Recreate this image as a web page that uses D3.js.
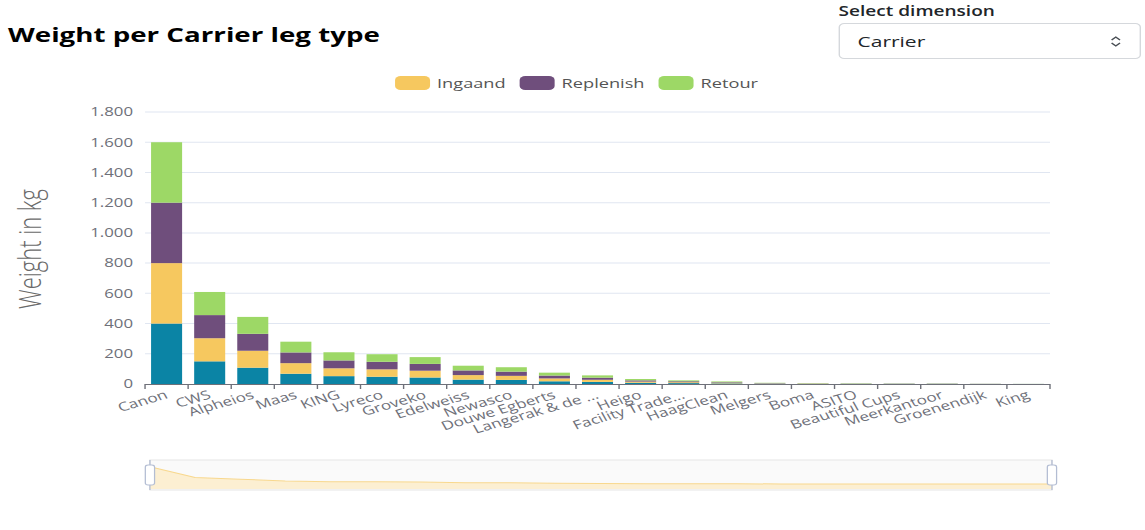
<!DOCTYPE html>
<html>
<head>
<meta charset="utf-8">
<script src="https://cdn.jsdelivr.net/npm/d3@7"></script>
<style>
  html, body { margin: 0; padding: 0; background: #fff; overflow: hidden; }
  /* the reference is stretched horizontally, so the whole page is laid out narrow and scaled */
  #page {
    position: absolute; left: 0; top: 0; width: 818px; height: 530px;
    transform: scaleX(1.4); transform-origin: 0 0;
    font-family: "Open Sans", sans-serif;
  }
  #chart { position: absolute; left: 0; top: 0; }
  .dim-label {
    position: absolute; left: 599px; top: 1px;
    font-size: 13.6px; font-weight: 600; color: #212529;
  }
  .dim-select {
    position: absolute; left: 598.5px; top: 23px; width: 216px; height: 36px;
    box-sizing: border-box; border: 1px solid #d5d8dc; border-radius: 4px;
    font-size: 15px; color: #212529; padding-left: 13px; line-height: 34px;
  }
  .dim-select svg { position: absolute; right: 13px; top: 11px; }
</style>
</head>
<body>
<div id="page">
  <svg id="chart"></svg>
  <div class="dim-label">Select dimension</div>
  <div class="dim-select">Carrier
    <svg width="8" height="13" viewBox="0 0 8 13">
      <path d="M1 5 L4 2 L7 5" fill="none" stroke="#4a4f55" stroke-width="1.1"/>
      <path d="M1 8 L4 11 L7 8" fill="none" stroke="#4a4f55" stroke-width="1.1"/>
    </svg>
  </div>
</div>
<script>
const SCALE_X = 1.4;
const WIDTH = 1145 / SCALE_X;
const HEIGHT = 530;

const carriers = [
  "Canon", "CWS", "Alpheios", "Maas", "KING", "Lyreco", "Groveko", "Edelweiss",
  "Newasco", "Douwe Egberts", "Langerak & de ...", "Heigo", "Facility Trade...",
  "HaagClean", "Melgers", "Boma", "ASITO", "Beautiful Cups", "Meerkantoor",
  "Groenendijk", "King"
];

// bottom (teal) series has no legend entry in the original
const uitgaand  = [400, 150, 108, 68, 52, 48, 43, 29, 27, 18, 14, 8, 6, 4, 2, 1, 1, 1, 1, 0.5, 0.3];
const ingaand   = [400, 153, 112, 70, 52, 49, 45, 30, 27, 19, 14, 8, 6, 4, 2, 2, 1, 1, 1, 0.5, 0.2];
const replenish = [400, 153, 112, 71, 52, 50, 45, 31, 28, 19, 14, 8, 6, 4, 2, 1, 1, 1, 1, 0.5, 0.2];
const retour    = [400, 153, 112, 71, 54, 50, 45, 31, 29, 19, 15, 9, 6, 5, 2, 2, 2, 1, 1, 0.5, 0.3];

const seriesKeys = ["Uitgaand", "Ingaand", "Replenish", "Retour"];
const legendKeys = ["Ingaand", "Replenish", "Retour"];
const seriesColors = ["#0b84a5", "#f6c85f", "#6f4e7c", "#9dd866"];
const yTicks = [0, 200, 400, 600, 800, 1000, 1200, 1400, 1600, 1800];

const plot = { left: 103.6, right: 750, top: 112, bottom: 384 };
const slider = { left: 107.1, right: 751.4, top: 460, bottom: 490 };

const rows = carriers.map((c, i) => ({
  carrier: c,
  Uitgaand: uitgaand[i],
  Ingaand: ingaand[i],
  Replenish: replenish[i],
  Retour: retour[i]
}));

const color = d3.scaleOrdinal().domain(seriesKeys).range(seriesColors);
const nl = d3.formatLocale({ decimal: ",", thousands: ".", grouping: [3], currency: ["€", ""] });
const fmt = nl.format(",d");

const svg = d3.select("#chart").attr("width", WIDTH).attr("height", HEIGHT);

const x = d3.scaleBand()
  .domain(carriers)
  .range([plot.left, plot.right])
  .paddingInner(0.28)
  .paddingOuter(0.14);

const y = d3.scaleLinear().domain([0, 1800]).range([plot.bottom, plot.top]);

// title
svg.append("text")
  .attr("x", 5.7)
  .attr("y", 42)
  .attr("font-size", 19.8)
  .attr("font-weight", 700)
  .attr("fill", "#000")
  .text("Weight per Carrier leg type");

// grid lines
svg.append("g")
  .selectAll("line")
  .data(yTicks.filter((t) => t > 0))
  .join("line")
  .attr("x1", plot.left)
  .attr("x2", plot.right)
  .attr("y1", (d) => y(d))
  .attr("y2", (d) => y(d))
  .attr("stroke", "#e0e6f1");

// y axis labels
const yAxis = svg.append("g")
  .attr("transform", `translate(${plot.left},0)`)
  .call(d3.axisLeft(y).tickValues(yTicks).tickFormat(fmt).tickSize(0).tickPadding(8.6));
yAxis.select(".domain").remove();
yAxis.selectAll("text")
  .attr("font-family", "Open Sans")
  .attr("font-size", 12)
  .attr("fill", "#6e7079");

// y axis name
svg.append("text")
  .attr("transform", "translate(20.7,249) rotate(-90)")
  .attr("text-anchor", "middle")
  .attr("dominant-baseline", "central")
  .attr("font-size", 22)
  .attr("font-weight", 300)
  .attr("fill", "#6a6a6a")
  .text("Weight in kg");

// stacked bars
const stacked = d3.stack().keys(seriesKeys)(rows);
svg.append("g")
  .selectAll("g")
  .data(stacked)
  .join("g")
  .attr("fill", (d) => color(d.key))
  .selectAll("rect")
  .data((d) => d)
  .join("rect")
  .attr("x", (d) => x(d.data.carrier))
  .attr("width", x.bandwidth())
  .attr("y", (d) => y(d[1]))
  .attr("height", (d) => y(d[0]) - y(d[1]));

// x axis
const xAxis = svg.append("g")
  .attr("transform", `translate(0,${plot.bottom})`)
  .call(d3.axisBottom(x).tickSize(0).tickPadding(0));
xAxis.select(".domain")
  .attr("d", `M${plot.left},0.5H${plot.right}`)
  .attr("stroke", "#6e7079");
xAxis.selectAll(".tick text")
  .attr("font-family", "Open Sans")
  .attr("font-size", 12.3)
  .attr("fill", "#6e7079")
  .attr("text-anchor", "end")
  .attr("x", 0)
  .attr("y", 0)
  .attr("dy", "0.35em")
  .attr("transform", "translate(0,10) rotate(-22)");

// category boundary ticks
const boundaries = d3.range(carriers.length + 1).map((i) => plot.left + i * x.step());
xAxis.append("g")
  .selectAll("line")
  .data(boundaries)
  .join("line")
  .attr("x1", (d) => d)
  .attr("x2", (d) => d)
  .attr("y1", 0)
  .attr("y2", 5)
  .attr("stroke", "#6e7079");

// legend
const legend = svg.append("g");
let lx = 0;
legendKeys.forEach((key) => {
  const g = legend.append("g");
  g.append("rect")
    .attr("x", 0)
    .attr("y", -7)
    .attr("width", 25)
    .attr("height", 14)
    .attr("rx", 4)
    .attr("fill", color(key));
  const t = g.append("text")
    .attr("x", 30)
    .attr("dominant-baseline", "central")
    .attr("font-size", 13)
    .attr("fill", "#555")
    .text(key);
  g.attr("transform", `translate(${lx},0)`);
  lx += 30 + t.node().getComputedTextLength() + 10;
});
const legendWidth = lx - 10;
legend.attr("transform", `translate(${411.8 - legendWidth / 2},83)`);

// data zoom slider (full range selected)
const totals = rows.map((r) => seriesKeys.reduce((s, k) => s + r[k], 0));
const sx = d3.scalePoint().domain(carriers).range([slider.left, slider.right]);
const sy = d3.scaleLinear().domain([0, d3.max(totals)]).range([484, 466.7]);

const zoomG = svg.append("g");
zoomG.append("rect")
  .attr("x", slider.left)
  .attr("y", slider.top)
  .attr("width", slider.right - slider.left)
  .attr("height", slider.bottom - slider.top)
  .attr("fill", "#fafafa")
  .attr("stroke", "#e6e6e6");

const shadowArea = d3.area()
  .x((d, i) => sx(carriers[i]))
  .y0(slider.bottom - 1)
  .y1((d) => sy(d));
zoomG.append("path")
  .datum(totals)
  .attr("d", shadowArea)
  .attr("fill", "#fcefd2");
zoomG.append("path")
  .datum(totals)
  .attr("d", d3.line().x((d, i) => sx(carriers[i])).y((d) => sy(d)))
  .attr("fill", "none")
  .attr("stroke", "#f8d88e")
  .attr("stroke-width", 1);

[slider.left, slider.right].forEach((hx) => {
  zoomG.append("line")
    .attr("x1", hx)
    .attr("x2", hx)
    .attr("y1", slider.top)
    .attr("y2", slider.bottom)
    .attr("stroke", "#b3bdd3")
    .attr("stroke-width", 0.9);
  zoomG.append("rect")
    .attr("x", hx - 3.3)
    .attr("y", 465)
    .attr("width", 6.6)
    .attr("height", 20)
    .attr("rx", 2)
    .attr("fill", "#fff")
    .attr("stroke", "#b3bdd3")
    .attr("stroke-width", 0.9);
});
</script>
</body>
</html>
